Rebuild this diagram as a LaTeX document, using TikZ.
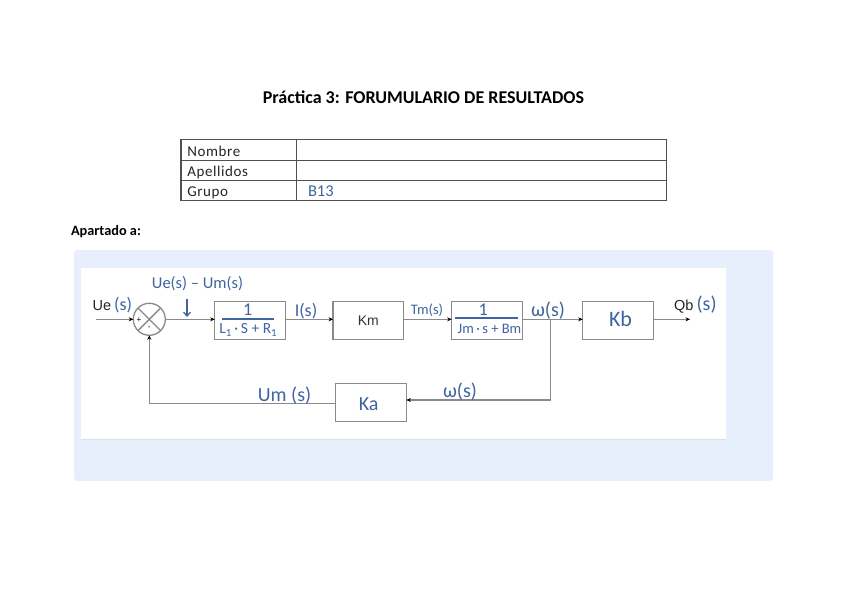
\documentclass[tikz,border=0pt]{standalone}
\usepackage{fontspec}
\setmainfont{Carlito}
\newfontfamily\arialf{Liberation Sans}
\newfontfamily\spaced[LetterSpace=4]{Carlito}
\usetikzlibrary{arrows.meta}
\definecolor{panel}{HTML}{E8EFFC}
\definecolor{ink}{HTML}{3F64A0}
\definecolor{wire}{HTML}{8A8A8A}
\definecolor{tabline}{HTML}{505050}
\tikzset{
  every node/.style={outer sep=0pt},
  blockbox/.style={draw=wire,line width=1.3pt,minimum width=70.6pt,minimum height=38.3pt,inner sep=0pt,font=\arialf\fontsize{14}{16}\selectfont,text=black!80},
  sumnode/.style={draw=wire,line width=1.3pt,circle,minimum size=32pt,inner sep=0pt},
  sign/.style={inner sep=0pt,font=\arialf\fontsize{8}{9}\selectfont},
  wireline/.style={draw=wire,line width=1.3pt},
  wirearrow/.style={wireline,-{Stealth[length=4.5pt,width=4pt,color=black]}},
  hand/.style={inner sep=0pt,text=ink,font=\fontsize{16.5}{18}\selectfont},
  handbig/.style={inner sep=0pt,text=ink,font=\fontsize{20}{24}\selectfont},
  handsmall/.style={inner sep=0pt,text=ink,font=\fontsize{14.5}{16}\selectfont},
  blacklabel/.style={inner sep=0pt,font=\arialf\fontsize{14.5}{16}\selectfont,text=black!85},
  cell/.style={draw=tabline,line width=1.1pt,inner sep=0pt,minimum height=20.3pt},
  celltext/.style={inner sep=0pt,anchor=base west,text=black!85,font=\spaced\fontsize{15}{17}\selectfont},
  barline/.style={draw=ink,line width=1.2pt},
  heading/.style={inner sep=0pt,text=black,font=\bfseries\fontsize{18}{21}\selectfont},
  subheading/.style={inner sep=0pt,anchor=west,text=black,font=\bfseries\fontsize{14.3}{16}\selectfont}
}
\begin{document}
\begin{tikzpicture}[x=1pt,y=-1pt]
\useasboundingbox (0,0) rectangle (848,599);
\fill[white] (0,0) rectangle (848,599);
\node[heading] (title) at (423.5,97) {Práctica 3: FORUMULARIO DE RESULTADOS};
% table
\node[cell,minimum width=115.3pt] (n1) at (238.65,150) {};
\node[cell,minimum width=115.3pt] (a1) at (238.65,170.2) {};
\node[cell,minimum width=115.3pt] (g1) at (238.65,190.4) {};
\node[cell,minimum width=370.4pt] (n2) at (481.5,150) {};
\node[cell,minimum width=370.4pt] (a2) at (481.5,170.2) {};
\node[cell,minimum width=370.4pt] (g2) at (481.5,190.4) {};
\node[celltext] (tn) at (187.3,156) {Nombre};
\node[celltext] (ta) at (187.3,176) {Apellidos};
\node[celltext] (tg) at (187.3,196) {Grupo};
\node[hand,anchor=west] (grp) at (308,191.5) {B13};
\node[subheading] (apt) at (71,232) {Apartado a:};
% panels
\fill[panel,rounded corners=3pt] (74,250) rectangle (773,481);
\fill[white] (81,268) rectangle (726,439);
\draw[black!12,line width=0.6pt] (81,439) -- (726,439);
% blocks
\node[sumnode] (s) at (149.3,319.3) {};
\draw[wireline] (s.45) -- (s.225) (s.135) -- (s.315);
\node[sign] (plus) at (139,320) {+};
\node[sign] (minus) at (149.3,328) {-};
\node[blockbox] (b1) at (250,320.5) {};
\node[blockbox] (km) at (368.4,320.5) {Km};
\node[blockbox] (b3) at (487,320.5) {};
\node[blockbox] (kb) at (618,320.5) {};
\node[blockbox] (ka) at (371,402.3) {};
\coordinate (in) at (96,319.3);
\coordinate (out) at (690,319.3);
\coordinate (tee) at (550.7,319.3);
\coordinate (corner) at (550.7,400);
\coordinate (kain) at (406.3,400);
\coordinate (kaout) at (335.7,403.7);
% connectors
\draw[wirearrow] (in) -- (s.west);
\draw[wirearrow] (s.east) -- (b1.west |- s.east);
\draw[wirearrow] (b1.east |- s.east) -- (km.west |- s.east);
\draw[wirearrow] (km.east |- s.east) -- (b3.west |- s.east);
\draw[wirearrow] (b3.east |- s.east) -- (kb.west |- s.east);
\draw[wirearrow] (kb.east |- s.east) -- (out);
\draw[wirearrow] (tee) -- (corner) -- (kain);
\draw[wirearrow] (kaout) -| (s.south);
% labels
\node[blacklabel,anchor=west] (ue) at (92.7,305) {Ue\textcolor{ink}{\fontspec{Carlito}\fontsize{18}{20}\selectfont\,(s)}};
\node[hand] (err) at (197.5,284) {Ue(s) – Um(s)};
\coordinate (da) at (187,299);
\coordinate (db) at (187,317);
\draw[ink,line width=1.2pt,-{Straight Barb[length=4pt,width=7pt]}] (da) -- (db);
\node[hand,font=\fontsize{18}{20}\selectfont] (i) at (306,311) {I(s)};
\node[handsmall] (tm) at (427,310) {Tm(s)};
\node[hand,font=\fontsize{20}{22}\selectfont] (w1) at (548,311) {ω(s)};
\node[blacklabel,anchor=west] (qb) at (674,305) {Qb\textcolor{ink}{\fontspec{Carlito}\fontsize{20}{22}\selectfont\,(s)}};
\node[hand,font=\fontsize{20}{22}\selectfont] (um) at (284.5,396) {Um (s)};
\node[hand,font=\fontsize{20}{22}\selectfont] (w2) at (460,392) {ω(s)};
\node[handbig] (kat) at (368.7,404) {Ka};
\node[handbig,font=\fontsize{22}{26}\selectfont] (kbt) at (620.5,319) {Kb};
% fractions
\node[hand,font=\fontsize{18}{20}\selectfont] (n1f) at (247.7,310) {1};
\coordinate (f1a) at (221.7,319);
\coordinate (f1b) at (274,319);
\draw[barline] (f1a) -- (f1b);
\node[hand,font=\fontsize{15.5}{18}\selectfont] (d1f) at (248.3,330) {L\textsubscript{1}\,·\,S + R\textsubscript{1}};
\node[hand,font=\fontsize{18}{20}\selectfont] (n3f) at (483.3,310) {1};
\coordinate (f3a) at (455,318);
\coordinate (f3b) at (518.3,318);
\draw[barline] (f3a) -- (f3b);
\node[handsmall] (d3f) at (489.5,329) {Jm\,·\,s + Bm};
\end{tikzpicture}
\end{document}
